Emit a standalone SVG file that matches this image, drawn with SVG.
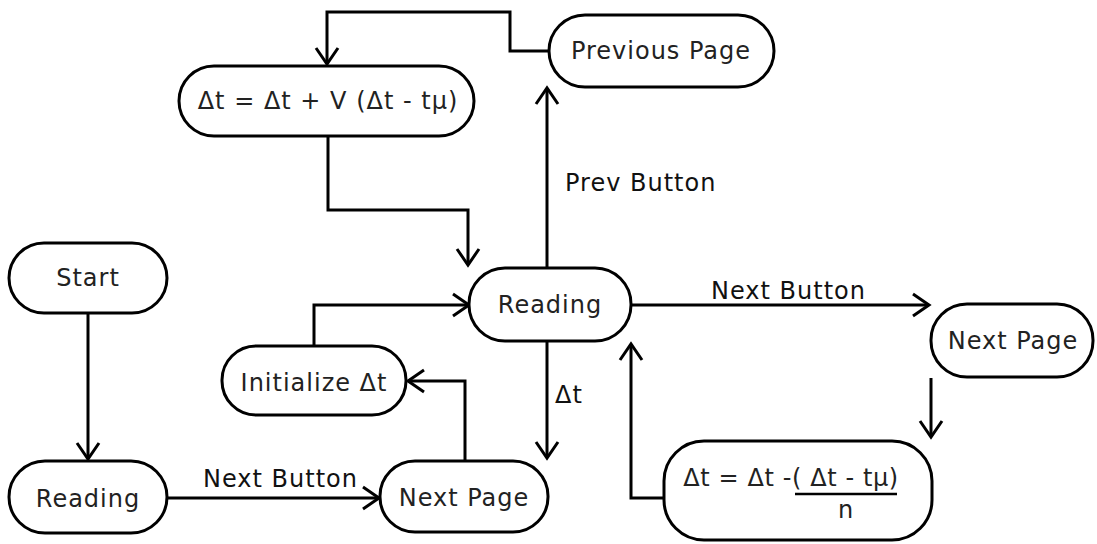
<svg xmlns="http://www.w3.org/2000/svg" width="1097" height="544" viewBox="0 0 1097 544">
<style>
.node rect{fill:#fff;stroke:#000;stroke-width:3}
.t{font-family:"DejaVu Sans",sans-serif;font-size:24px;letter-spacing:1px;fill:#222;text-anchor:middle}
.lbl{font-family:"DejaVu Sans",sans-serif;font-size:24px;letter-spacing:1px;fill:#111}
.c{fill:none;stroke:#000;stroke-width:3}
</style>
<defs>
<marker id="ah" markerUnits="userSpaceOnUse" markerWidth="40" markerHeight="40" refX="0" refY="0" orient="auto" overflow="visible" viewBox="-20 -20 40 40">
<path d="M-16,-11 L0,0 L-16,11" fill="none" stroke="#000" stroke-width="3"/>
</marker>
</defs>
<g id="connectors">
<path class="c" d="M88,313 V459" stroke-width="5" marker-end="url(#ah)"/>
<path class="c" d="M168,498 H379" marker-end="url(#ah)"/>
<path class="c" d="M465,460 V381 H408" marker-end="url(#ah)"/>
<path class="c" d="M314,346 V305 H469" marker-end="url(#ah)"/>
<path class="c" d="M632,305 H929" marker-end="url(#ah)"/>
<path class="c" d="M931,378 V437" marker-end="url(#ah)"/>
<path class="c" d="M665,498 H631 V344" marker-end="url(#ah)"/>
<path class="c" d="M547,342 V458" marker-end="url(#ah)"/>
<path class="c" d="M547,267 V88" marker-end="url(#ah)"/>
<path class="c" d="M549,51 H510 V12 H327 V64" marker-end="url(#ah)"/>
<path class="c" d="M328,137 V210 H468 V265" marker-end="url(#ah)"/>
<text class="lbl" x="203" y="487">Next Button</text>
<text class="lbl" x="711" y="299">Next Button</text>
<text class="lbl" x="565" y="191">Prev Button</text>
<text class="lbl" x="555" y="403">Δt</text>
</g>
<g id="start" class="node"><rect x="9" y="243" width="158" height="70" rx="35"/><text class="t" x="88" y="286">Start</text></g>
<g id="reading1" class="node"><rect x="9" y="461" width="158" height="72" rx="36"/><text class="t" x="88" y="507">Reading</text></g>
<g id="nextpage1" class="node"><rect x="380" y="461" width="168" height="71" rx="35"/><text class="t" x="464" y="506">Next Page</text></g>
<g id="init" class="node"><rect x="222" y="346" width="184" height="69" rx="34"/><text class="t" x="314" y="391">Initialize Δt</text></g>
<g id="reading2" class="node"><rect x="469" y="268" width="162" height="73" rx="36"/><text class="t" x="550" y="313">Reading</text></g>
<g id="nextpage2" class="node"><rect x="931" y="304" width="162" height="73" rx="36"/><text class="t" x="1013" y="349">Next Page</text></g>
<g id="formula2" class="node"><rect x="664" y="441" width="268" height="99" rx="40"/><text class="t" x="791" y="486" style="letter-spacing:0.6px">Δt = Δt -( Δt - tμ)</text><line x1="795" y1="494" x2="897" y2="494" stroke="#000" stroke-width="2.5"/><text class="t" x="846" y="518">n</text></g>
<g id="formula1" class="node"><rect x="179" y="66" width="295" height="70" rx="35"/><text class="t" x="328" y="109">Δt = Δt + V (Δt - tμ)</text></g>
<g id="prevpage" class="node"><rect x="549" y="15" width="225" height="72" rx="36"/><text class="t" x="661" y="59">Previous Page</text></g>
</svg>
